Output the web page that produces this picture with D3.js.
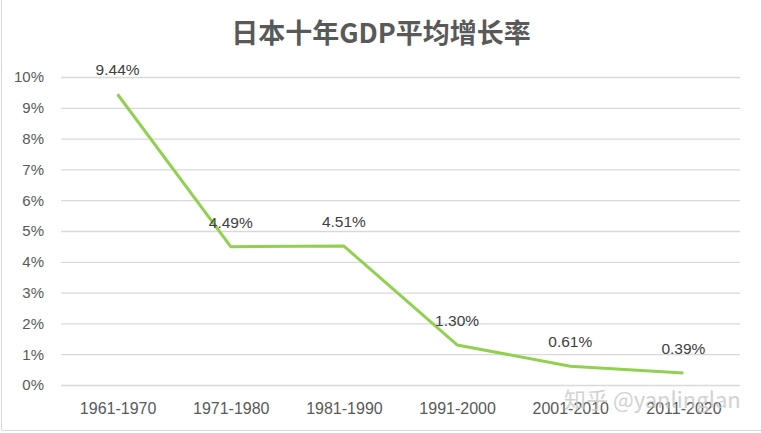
<!DOCTYPE html>
<html>
<head>
<meta charset="utf-8">
<script src="https://cdn.jsdelivr.net/npm/d3@7"></script>
<style>
  body { margin: 0; background: #fff; }
  text { font-family: "Liberation Sans", "Noto Sans CJK SC", sans-serif; }
</style>
</head>
<body>
<div id="chart"></div>
<script>
var decades = ['1961-1970', '1971-1980', '1981-1990', '1991-2000', '2001-2010', '2011-2020']
  , growth = [9.44, 4.49, 4.51, 1.30, 0.61, 0.39]
  , yTicks = [0, 1, 2, 3, 4, 5, 6, 7, 8, 9, 10]
  , title = '日本十年GDP平均增长率'
;

var width = 761
  , height = 433
  , plotLeft = 61, plotRight = 740
  , plotTop = 77, plotBottom = 385
  , ink = '#595959'
;

var svg = d3.select('#chart').append('svg')
  .attr('width', width)
  .attr('height', height);

// chart area frame (left and bottom edges visible)
svg.append('line').attr('x1', 1.5).attr('x2', 1.5).attr('y1', 0).attr('y2', 430)
  .attr('stroke', '#d9d9d9');
svg.append('line').attr('x1', 1.5).attr('x2', width).attr('y1', 430.5).attr('y2', 430.5)
  .attr('stroke', '#d9d9d9');

var x = d3.scalePoint().domain(decades).range([plotLeft, plotRight]).padding(0.5);
var y = d3.scaleLinear().domain([0, 10]).range([plotBottom, plotTop]);

svg.append('text')
  .attr('x', 381).attr('y', 43)
  .attr('text-anchor', 'middle')
  .style('font-family', '"Noto Sans CJK SC", sans-serif')
  .style('font-weight', 'bold')
  .style('font-size', '27px')
  .attr('fill', ink)
  .text(title);

var yAxis = svg.append('g')
  .attr('transform', 'translate(' + plotLeft + ',0)')
  .call(d3.axisLeft(y).tickValues(yTicks).tickSize(-(plotRight - plotLeft)).tickPadding(17)
    .tickFormat(function (d) { return d + '%'; }));
yAxis.select('.domain').remove();
yAxis.selectAll('.tick line').attr('stroke', '#d9d9d9').attr('stroke-width', 1.3);
yAxis.selectAll('.tick text').attr('fill', ink).style('font-size', '15px');

var xAxis = svg.append('g')
  .attr('transform', 'translate(0,' + plotBottom + ')')
  .call(d3.axisBottom(x).tickSize(0).tickPadding(18));
xAxis.select('.domain').remove();
xAxis.selectAll('.tick text').attr('fill', ink).style('font-size', '16px');

var pts = decades.map(function (d, i) { return {c: d, v: growth[i]}; });

svg.append('path')
  .datum(pts)
  .attr('fill', 'none')
  .attr('stroke', '#92d050')
  .attr('stroke-width', 3)
  .attr('stroke-linejoin', 'round')
  .attr('d', d3.line()
    .x(function (d) { return x(d.c); })
    .y(function (d) { return y(d.v); }));

svg.selectAll('.lbl')
  .data(pts)
  .enter()
  .append('text')
    .attr('class', 'lbl')
    .attr('x', function (d) { return x(d.c); })
    .attr('y', function (d) { return y(d.v) - 19; })
    .attr('text-anchor', 'middle')
    .attr('fill', '#404040')
    .style('font-size', '15.5px')
    .text(function (d) { return d.v.toFixed(2) + '%'; });

// watermark
svg.append('text')
  .attr('x', 564).attr('y', 408)
  .style('font-family', '"Noto Sans CJK SC", sans-serif')
  .style('font-size', '22px')
  .attr('fill', '#c8c8c8')
  .attr('opacity', 0.8)
  .text('知乎 @yanlinglan');
</script>
</body>
</html>
